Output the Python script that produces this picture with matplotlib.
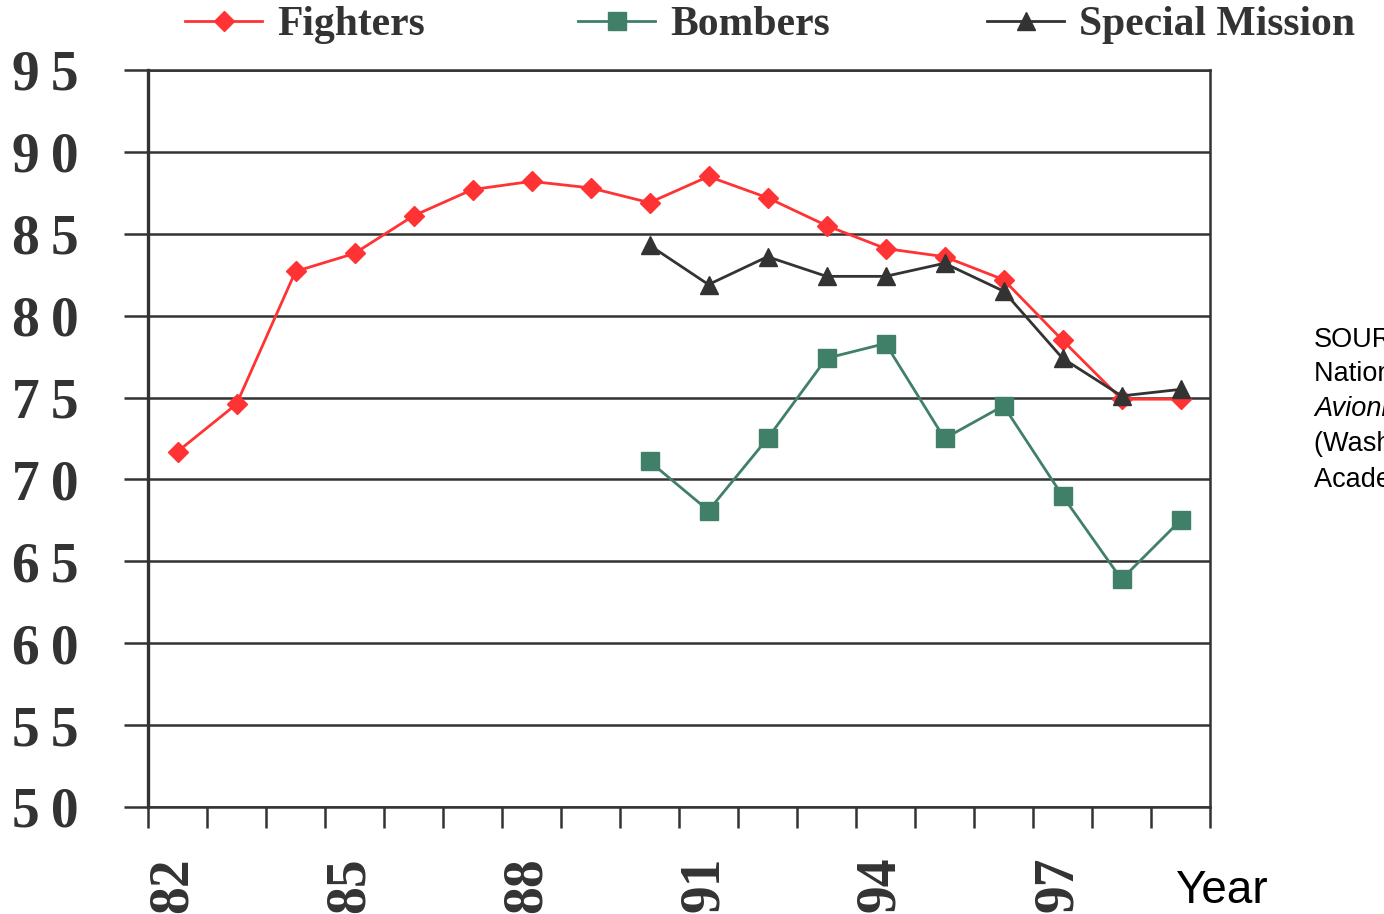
import matplotlib
matplotlib.use("Agg")
import matplotlib.pyplot as plt
from matplotlib.transforms import ScaledTranslation

# ---- data ----
years = ['82', '83', '84', '85', '86', '87', '88', '89', '90',
         '91', '92', '93', '94', '95', '96', '97', '98', '99']
fighters = [71.7, 74.6, 82.7, 83.8, 86.1, 87.7, 88.2, 87.8, 86.9,
            88.5, 87.2, 85.5, 84.1, 83.6, 82.2, 78.5, 74.9, 74.9]
late_years = ['90', '91', '92', '93', '94', '95', '96', '97', '98', '99']
bombers = [71.1, 68.1, 72.5, 77.4, 78.3, 72.5, 74.5, 69.0, 63.9, 67.5]
special = [84.3, 81.9, 83.6, 82.4, 82.4, 83.2, 81.5, 77.4, 75.1, 75.5]
y_ticks = [50, 55, 60, 65, 70, 75, 80, 85, 90, 95]
shown_years = ['82', '85', '88', '91', '94', '97']
source_lines = ["SOURCE:",
                "National Research Council,",
                "Avionics Technology Forecast",
                "(Washington, D.C.: National",
                "Academy Press, 1997)."]

W, H = 1384, 914
fig = plt.figure(figsize=(W / 100, H / 100), dpi=100)
ax = fig.add_axes([148 / W, 1 - 807 / H, (1210 - 148) / W, (807 - 70) / H])

grey = '#333333'
red = '#FF3333'
green = '#408068'
serif = ['Liberation Serif', 'DejaVu Serif']

xf = [years.index(y) for y in years]
xl = [years.index(y) for y in late_years]

l1, = ax.plot(xf, fighters, color=red, lw=2.0, marker='D', ms=10.5,
              mec=red, mfc=red, zorder=4, label='Fighters')
l2, = ax.plot(xl, bombers, color=green, lw=2.0, marker='s', ms=12.5,
              mec=green, mfc=green, zorder=3, label='Bombers')
l3, = ax.plot(xl, special, color=grey, lw=2.0, marker='^', ms=13,
              mec=grey, mfc=grey, zorder=5, label='Special Mission')

ax.set_xlim(-0.5, len(years) - 0.5)
ax.set_ylim(50, 95)

# y axis
ax.set_yticks(y_ticks)
ax.set_yticklabels(['\u2009'.join(str(v)) for v in y_ticks],
                   family=serif, fontweight='bold', fontsize=40, color=grey)
ax.tick_params(axis='y', direction='out', length=17, width=1.8,
               color=grey, pad=33)
ax.grid(axis='y', color=grey, lw=1.8, zorder=1)

# x axis
ax.set_xticks([years.index(y) for y in shown_years])
ax.set_xticklabels(shown_years, family=serif, fontweight='bold',
                   fontsize=40, color=grey, rotation=90,
                   va='top', ha='center')
ax.set_xticks([i - 0.5 for i in range(len(years) + 1)], minor=True)
ax.tick_params(axis='x', which='major', length=0, pad=36)
ax.tick_params(axis='x', which='minor', direction='out', length=15,
               width=1.8, color=grey)
off = ScaledTranslation(-5 / 100, 0, fig.dpi_scale_trans)
for lab in ax.get_xticklabels():
    lab.set_transform(lab.get_transform() + off)

ax.spines['left'].set_linewidth(2.4)
ax.spines['left'].set_color(grey)
for s in ['right', 'top', 'bottom']:
    ax.spines[s].set_linewidth(1.8)
    ax.spines[s].set_color(grey)
ax.set_axisbelow(True)

# legend entries
legend_x = [185, 578, 987]
for line, x0 in zip([l1, l2, l3], legend_x):
    lg = fig.legend([line], [line.get_label()], loc='center left',
                    bbox_to_anchor=(x0 / W, 1 - 25 / H), frameon=False,
                    borderpad=0, borderaxespad=0, handlelength=1.85,
                    handletextpad=0.36,
                    prop={'family': serif, 'weight': 'bold', 'size': 30})
    for t in lg.get_texts():
        t.set_color(grey)

fig.text(1175 / W, 1 - 903 / H, 'Year', family='Liberation Sans',
         fontsize=33, color='black', ha='left', va='baseline')

ys = [340, 374, 409, 444, 480]
for i, (txt, yy) in enumerate(zip(source_lines, ys)):
    fig.text(1314 / W, 1 - yy / H, txt,
             family='Liberation Sans', fontsize=19.5, color='black',
             style='italic' if i == 2 else 'normal', ha='left', va='center')

fig.savefig('out.png', dpi=100)
